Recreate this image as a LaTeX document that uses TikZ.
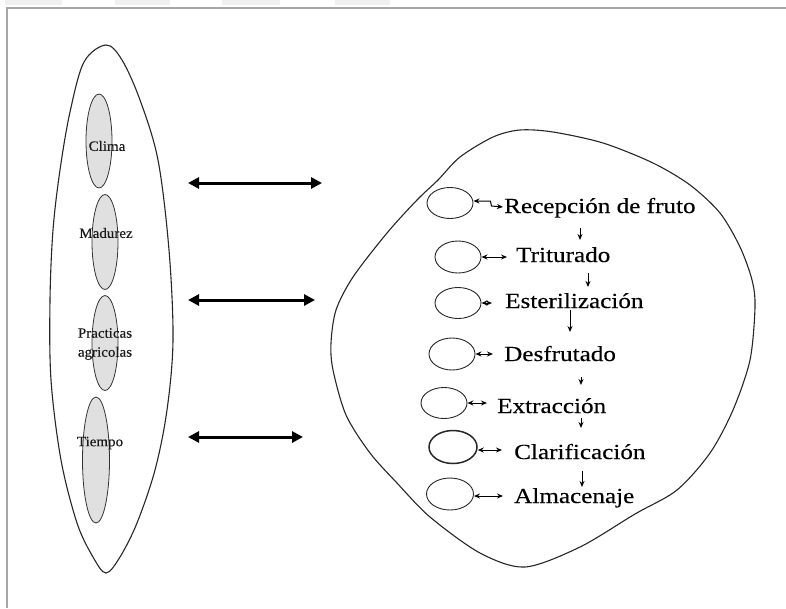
\documentclass[tikz,border=0pt]{standalone}
\usepackage{fontspec}
\setmainfont{Liberation Serif}
\newfontfamily\stepfont{Liberation Serif}[FakeStretch=1.17, FakeBold=0.3]
\newfontfamily\leaffont{Liberation Serif}[FakeStretch=1.05, FakeBold=0.2]
\usetikzlibrary{arrows.meta,shapes.geometric,calc}
\begin{document}
\begin{tikzpicture}[x=1pt,y=-1pt,
  outline/.style={draw=black!85, line width=1.1pt},
  leaf/.style={ellipse, draw=black!80, fill=black!12, line width=0.8pt, inner sep=0pt},
  unit/.style={ellipse, draw=black!85, line width=0.9pt, minimum width=46pt, minimum height=31pt, inner sep=0pt},
  lefttext/.style={font=\leaffont\fontsize{14.3}{19}\selectfont, align=center, inner sep=0pt, text=black!90},
  steptext/.style={font=\stepfont\fontsize{21.5}{26}\selectfont, anchor=base west, inner sep=0pt},
  bigarrow/.style={line width=3pt, {Triangle[length=11pt,width=11pt]}-{Triangle[length=11pt,width=11pt]}},
  sarr/.style={line width=1pt, -{Stealth[length=6pt,width=5pt]}},
  darr/.style={line width=1pt, {Stealth[length=6pt,width=5pt]}-{Stealth[length=6pt,width=5pt]}},
]
\useasboundingbox (0,0) rectangle (786,608);
% faint scan strip and frame
\foreach \a/\b in {5/62,115/170,222/280,335/390}
  \fill[black!6] (\a,0) rectangle (\b,5);
\draw[black!35, line width=1.2pt] (7,608) -- (7,8) -- (786,8);

% left outer lens
\draw[outline] plot[smooth cycle, tension=0.55] coordinates {
  (106,45) (122,60) (140,100) (158,160) (169,250) (173,340) (167,410)
  (155,470) (137,523) (120,557) (106,573) (93,557) (77,523) (61,460)
  (51,380) (50,300) (53,230) (60,170) (70,112) (84,62)};

% leaves
\node[leaf, minimum width=26pt, minimum height=94pt] (l1) at (99,141) {};
\node[leaf, minimum width=26pt, minimum height=95pt] (l2) at (105,242) {};
\node[leaf, minimum width=26pt, minimum height=95pt] (l3) at (105,343) {};
\node[leaf, minimum width=27pt, minimum height=126pt] (l4) at (96,460) {};
\node[lefttext] (c1) at (107,146) {Clima};
\node[lefttext] (c2) at (106,233) {Madurez};
\node[lefttext] (c3) at (105,344) {Practicas\\agricolas};
\node[lefttext] (c4) at (100,443) {Tiempo};

% right blob
\draw[outline] plot[smooth cycle, tension=0.5] coordinates {
  (520,130) (553,132) (603,143) (653,163) (690,185) (720,213) (740,247)
  (752,280) (755,307) (750,360) (733,410) (710,453) (677,490) (635,514)
  (580,547) (525,567) (480,553) (430,517) (397,483) (370,453) (346,415)
  (333,370) (331,343) (336,310) (353,277) (387,233) (417,200) (438,180)
  (460,157) (493,137)};

% unit ellipses
\node[unit] (e1) at (450,203) {};
\node[unit, minimum height=32pt] (e2) at (458,257) {};
\node[unit] (e3) at (458,303) {};
\node[unit, minimum height=32pt] (e4) at (452,354) {};
\node[unit] (e5) at (444,403) {};
\node[unit, minimum width=48pt, minimum height=33pt, line width=1.5pt] (e6) at (453,447) {};
\node[unit, minimum width=47pt, minimum height=32pt] (e7) at (450,494) {};

% step texts
\node[steptext] (t1) at (504,213) {Recepción de fruto};
\node[steptext] (t2) at (516,262) {Triturado};
\node[steptext] (t3) at (505,308) {Esterilización};
\node[steptext] (t4) at (504,361) {Desfrutado};
\node[steptext] (t5) at (497,413) {Extracción};
\node[steptext] (t6) at (514,459) {Clarificación};
\node[steptext] (t7) at (514,503) {Almacenaje};

% ellipse <-> text links
\draw[darr] ([yshift=2pt]e1.east) -- ++(17,0) -- ++(1,5) coordinate (k1) -- ($(t1.base west)+(-1,-6)$);
\draw[darr] (e2.east) -- ($(e2.east -| t2.base west)+(-9,0)$);
\draw[darr] (e3.east) -- ($(e3.east -| t3.base west)+(-13,0)$);
\draw[darr] (e4.east) -- ($(e4.east -| t4.base west)+(-11,0)$);
\draw[darr] (e5.east) -- ($(e5.east -| t5.base west)+(-10,0)$);
\draw[darr] ([yshift=-3pt]e6.east) -- ($([yshift=-3pt]e6.east -| t6.base west)+(-12,0)$);
\draw[darr] ([yshift=-2pt]e7.east) -- ($([yshift=-2pt]e7.east -| t7.base west)+(-11,0)$);

% process flow
\draw[sarr] ($(t1.base west)+(76,15)$) -- ($(t2.base west)+(64,-22)$);
\draw[sarr] ($(t2.base west)+(72,11)$) -- ($(t3.base west)+(83,-21)$);
\draw[sarr] ($(t3.base west)+(65,2)$) -- ($(t4.base west)+(66,-29)$);
\draw[sarr] ($(t4.base west)+(77,16)$) -- ($(t5.base west)+(84,-28)$);
\draw[sarr] ($(t5.base west)+(84,5)$) -- ($(t6.base west)+(67,-31)$);
\draw[sarr] ($(t6.base west)+(68,12)$) -- ($(t7.base west)+(68,-16)$);

% big links between the two wholes
\coordinate (a1) at (188,183); \coordinate (b1) at (322,183);
\coordinate (a2) at (188,300); \coordinate (b2) at (315,300);
\coordinate (a3) at (188,437); \coordinate (b3) at (303,437);
\draw[bigarrow] (a1) -- (b1);
\draw[bigarrow] (a2) -- (b2);
\draw[bigarrow] (a3) -- (b3);
\end{tikzpicture}
\end{document}
